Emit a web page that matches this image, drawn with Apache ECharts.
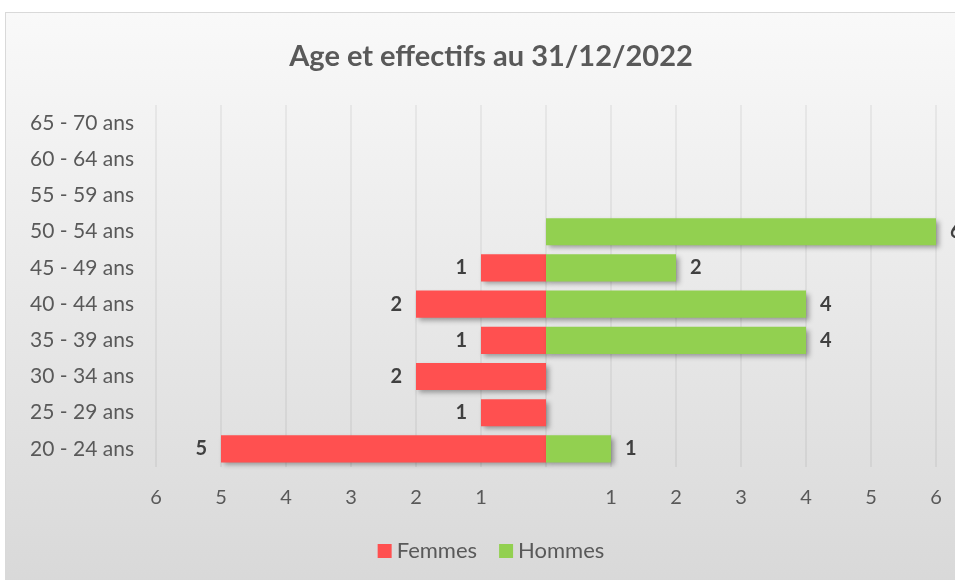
<!DOCTYPE html>
<html>
<head>
<meta charset="utf-8">
<script src="https://cdn.jsdelivr.net/npm/echarts@6/dist/echarts.min.js"></script>
<style>
  html, body { margin: 0; padding: 0; background: #fff; overflow: hidden; }
  #ageChart {
    position: absolute;
    left: 5px;
    top: 12px;
    width: 970px;
    height: 580px;
    border-left: 1px solid #d9d9d9;
    border-top: 1px solid #d9d9d9;
  }
</style>
</head>
<body>
<div id="ageChart"></div>
<script>
  // tranches d'age, du bas vers le haut
  const categories = ["20 - 24 ans", "25 - 29 ans", "30 - 34 ans", "35 - 39 ans", "40 - 44 ans",
    "45 - 49 ans", "50 - 54 ans", "55 - 59 ans", "60 - 64 ans", "65 - 70 ans"];
  const femmes = [5, 1, 2, 1, 2, 1, 0, 0, 0, 0];
  const hommes = [1, 0, 0, 4, 4, 2, 6, 0, 0, 0];
  const xTicks = [-6, -5, -4, -3, -2, -1, 0, 1, 2, 3, 4, 5, 6];

  const color = ["#FF5050", "#92D050"];
  const font = "Lato, 'Open Sans', sans-serif";

  const chart = echarts.init(document.getElementById("ageChart"));

  const commonBar = (side) => ({
    type: "bar",
    stack: "total",
    barCategoryGap: "25%",
    itemStyle: {
      shadowColor: "rgba(0,0,0,0.35)",
      shadowBlur: 5,
      shadowOffsetX: 3,
      shadowOffsetY: 3,
    },
    label: {
      show: true,
      position: side,
      distance: 14,
      color: "#404040",
      fontFamily: font,
      fontWeight: "bold",
      fontSize: 20,
      formatter: (p) => (p.value === 0 ? "" : Math.abs(p.value)),
    },
  });

  const option = {
    color,
    backgroundColor: {
      type: "linear", x: 0, y: 0, x2: 0, y2: 1,
      colorStops: [
        { offset: 0, color: "#f9f9f9" },
        { offset: 1, color: "#d8d8d8" },
      ],
    },
    textStyle: { fontFamily: font },
    title: {
      text: "Age et effectifs au 31/12/2022",
      left: "center",
      top: 24,
      textStyle: { color: "#595959", fontSize: 29, fontWeight: "bold", fontFamily: font },
    },
    legend: {
      bottom: 26,
      left: "center",
      itemWidth: 14,
      itemHeight: 14,
      itemGap: 22,
      icon: "rect",
      textStyle: { color: "#595959", fontSize: 22, fontFamily: font },
      data: ["Femmes", "Hommes"],
    },
    grid: { left: 150, right: 40, top: 92, bottom: 126 },
    xAxis: {
      type: "value",
      min: xTicks[0],
      max: xTicks[xTicks.length - 1],
      interval: 1,
      axisLine: { show: false },
      axisTick: { show: false },
      splitLine: { show: true, lineStyle: { color: "rgba(0,0,0,0.07)", width: 1.5 } },
      axisLabel: {
        color: "#595959",
        fontSize: 20,
        margin: 21,
        fontFamily: font,
        formatter: (v) => (v === 0 ? "" : Math.abs(v)),
      },
    },
    yAxis: {
      type: "category",
      data: categories,
      axisLine: { show: false },
      axisTick: { show: false },
      axisLabel: { color: "#595959", fontSize: 21, margin: 22, fontFamily: font },
    },
    series: [
      { name: "Femmes", data: femmes.map((v) => -v), ...commonBar("left") },
      { name: "Hommes", data: hommes, ...commonBar("right") },
    ],
  };

  chart.setOption(option);
</script>
</body>
</html>
